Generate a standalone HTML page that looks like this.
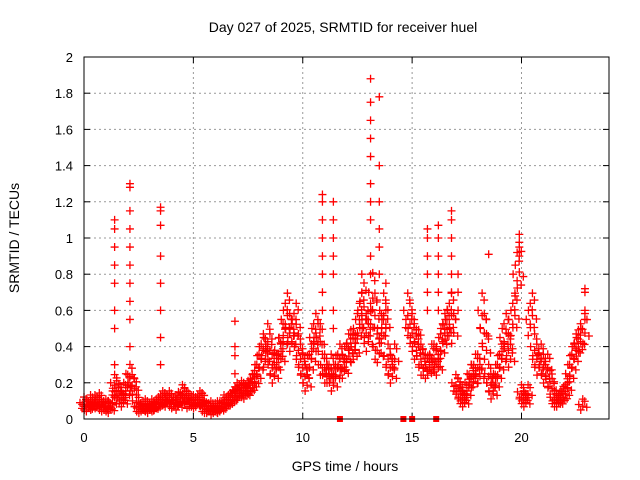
<!DOCTYPE html>
<html><head><meta charset="utf-8"><style>
body{margin:0;background:#fff}
svg{display:block;font-family:"Liberation Sans",sans-serif}
</style></head><body>
<svg id="chart" width="640" height="480">
<text x="343" y="32" text-anchor="middle" font-size="14">Day 027 of 2025, SRMTID for receiver huel</text>
<text x="345" y="471" text-anchor="middle" font-size="14">GPS time / hours</text>
<text transform="translate(19,238) rotate(-90)" text-anchor="middle" font-size="14">SRMTID / TECUs</text>
<g id="grid"></g><g id="ticks"></g><g id="marks"></g>
<rect x="84" y="57" width="525" height="362" fill="none" stroke="#000" stroke-width="1"/>
</svg>
<script>
const xTicks=[0,5,10,15,20];
const yTicks=[0,0.2,0.4,0.6,0.8,1,1.2,1.4,1.6,1.8,2];
const yTickLabels=["0","0.2","0.4","0.6","0.8","1","1.2","1.4","1.6","1.8","2"];
const baseStep=0.1;
const baseV=[.09,.08,.07,.1,.08,.1,.09,.11,.08,.07,
.08,.07,.06,.1,.2,.17,.15,.12,.1,.15,
.2,.25,.2,.18,.1,.07,.06,.07,.08,.07,
.06,.08,.07,.08,.09,.1,.12,.11,.1,.12,
.1,.09,.1,.08,.11,.15,.13,.12,.09,.1,
.1,.09,.1,.12,.11,.07,.06,.06,.07,.05,
.06,.07,.06,.07,.1,.09,.1,.11,.12,.14,
.16,.15,.17,.16,.15,.17,.18,.2,.22,.25,
.3,.35,.4,.35,.45,.4,.3,.25,.3,.38,
.35,.45,.55,.6,.5,.45,.5,.55,.4,.35,
.3,.25,.2,.3,.35,.45,.5,.45,.45,.3,
.3,.25,.25,.3,.2,.25,.3,.35,.3,.28,
.35,.4,.42,.38,.4,.5,.55,.6,.65,.5,
.45,.55,.7,.6,.4,.38,.5,.6,.55,.35,
.3,.25,.35,null,null,null,null,null,.6,.55,
.5,.45,.4,.42,.35,.3,.3,.28,.3,.35,
.35,.32,.3,.4,.45,.5,.52,.55,.6,.5,
.2,.18,.15,.12,.1,.15,.2,.25,.22,.3,
.3,.25,.6,.5,.4,.25,.2,.15,.2,.25,
.3,.35,.45,.5,.4,.35,.55,.6,.8,.85,
.15,.12,.1,.15,.55,.6,.4,.35,.3,.35,
.3,.25,.3,.22,.18,.12,.1,.1,.12,.13,
.15,.18,.25,.3,.35,.4,.42,.45,.08,.5];
const spikeT=[1.4,1.4,1.4,1.4,1.4,1.4,1.4,1.4,
2.1,2.1,2.1,2.1,2.1,2.1,2.1,2.1,2.1,2.1,
3.5,3.5,3.5,3.5,3.5,3.5,3.5,3.5,
6.9,6.9,6.9,6.9,
10.9,10.9,10.9,10.9,10.9,10.9,10.9,10.9,
11.4,11.4,11.4,11.4,11.4,11.4,11.4,
12.7,12.7,
13.1,13.1,13.1,13.1,13.1,13.1,13.1,13.1,13.1,13.1,
13.5,13.5,13.5,13.5,13.5,13.5,
13.8,13.8,13.8,
15.7,15.7,15.7,15.7,15.7,15.7,
16.2,16.2,16.2,16.2,16.2,16.2,
16.8,16.8,16.8,16.8,16.8,16.8,
17.1,17.1,17.1,
18.5,
19.9,19.9,19.9,
22.9,22.9,22.9,22.9];
const spikeV=[.3,.5,.6,.75,.85,.95,1.05,1.1,
.4,.55,.65,.75,.85,.95,1.05,1.15,1.28,1.3,
.3,.45,.6,.75,.9,1.07,1.15,1.17,
.25,.35,.4,.54,
.6,.7,.8,.9,1.0,1.1,1.2,1.24,
.5,.6,.8,.9,1.0,1.1,1.2,
.7,.8,
.8,.9,1.1,1.2,1.3,1.45,1.55,1.65,1.75,1.88,
.8,.95,1.05,1.2,1.4,1.78,
.5,.6,.75,
.6,.7,.8,.9,1.0,1.05,
.6,.7,.8,.9,1.0,1.07,
.7,.8,.9,1.0,1.1,1.15,
.6,.7,.8,
.91,
.9,.95,1.02,
.55,.6,.7,.72];
const gapT=[11.7,14.6,15.0,16.1];

const NS="http://www.w3.org/2000/svg";
const X0=84,X1=609,Y0=419,Y1=57;
const xs=t=>X0+t/24*(X1-X0);
const ys=v=>Y0-v/2*(Y0-Y1);
function mk(tag,attrs,parent){const e=document.createElementNS(NS,tag);for(const k in attrs)e.setAttribute(k,attrs[k]);parent.appendChild(e);return e;}
const grid=document.getElementById('grid'),ticks=document.getElementById('ticks'),marks=document.getElementById('marks');
xTicks.forEach(t=>{
  const x=xs(t);
  if(t>0){const g=mk('line',{x1:x,x2:x,y1:Y1,y2:Y0,stroke:'#999','stroke-dasharray':'2,3'},grid);
  
  }
  mk('line',{x1:x,x2:x,y1:Y0,y2:Y0-6,stroke:'#000'},ticks);
  mk('line',{x1:x,x2:x,y1:Y1,y2:Y1+6,stroke:'#000'},ticks);
  const l=mk('text',{x:x,y:442,'text-anchor':'middle','font-size':13},ticks);l.textContent=t;
  
  
});
yTicks.forEach((v,i)=>{
  const y=ys(v);
  if(v>0&&v<2){const g=mk('line',{x1:X0,x2:X1,y1:y,y2:y,stroke:'#999','stroke-dasharray':'2,3'},grid);
  
  }
  mk('line',{x1:X0,x2:X0+6,y1:y,y2:y,stroke:'#000'},ticks);
  mk('line',{x1:X1,x2:X1-6,y1:y,y2:y,stroke:'#000'},ticks);
  const l=mk('text',{x:73,y:y+5,'text-anchor':'end','font-size':13},ticks);l.textContent=yTickLabels[i];
  
  
});
function cross(x,y){
  const p=mk('path',{d:`M${x-4},${y}h8M${x},${y-4}v8`,stroke:'#f00','stroke-width':1.3,fill:'none'},marks);
  
  
}
const offs=[[-4,0],[0,-1],[4,0.5],[-2,1],[2,-0.6],[0,0.3]];
baseV.forEach((v,i)=>{
  if(v===null)return;
  const t=i*baseStep;
  const sp=(0.04+0.25*v)/2*(Y0-Y1)/2;
  offs.forEach(o=>{
    const y=Math.min(Y0-2,ys(v)+o[1]*sp);
    cross(xs(t)+o[0],y);
  });
});
spikeT.forEach((t,i)=>cross(xs(t),ys(spikeV[i])));
gapT.forEach(t=>{
  const r=mk('rect',{x:xs(t)-3,y:Y0-3,width:6,height:6,fill:'#f00'},marks);
  
  
});
</script>
</body></html>
